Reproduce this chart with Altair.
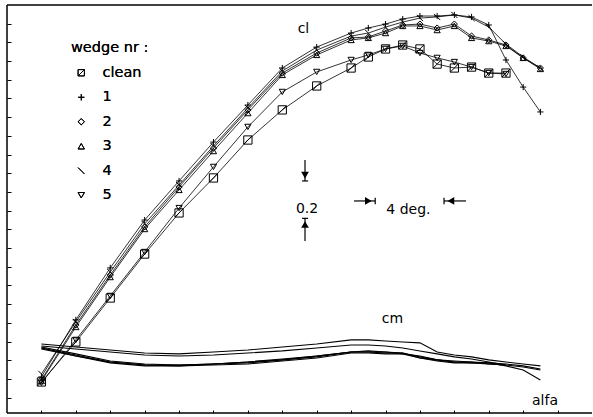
import altair as alt
import pandas as pd

# ---------------- data ----------------
alfa = [-4, -2, 0, 2, 4, 6, 8, 10, 12, 14, 15, 16, 17, 18, 19, 20, 21, 22, 23, 24, 25]
series_names = ["clean", "1", "2", "3", "4", "5"]

cl_clean = [-0.016, 0.198, 0.433, 0.668, 0.888, 1.075, 1.278, 1.439, 1.567, 1.663,
            1.722, 1.765, 1.786, 1.765, 1.684, 1.663, 1.668, 1.636, 1.636]
cl_1 = [0.011, 0.316, 0.594, 0.850, 1.059, 1.267, 1.465, 1.663, 1.775, 1.850, 1.877,
        1.898, 1.925, 1.941, 1.941, 1.947, 1.936, 1.893, 1.706, 1.561, 1.428]
cl_2 = [-0.005, 0.289, 0.556, 0.813, 1.027, 1.235, 1.439, 1.636, 1.743, 1.824, 1.829,
        1.861, 1.893, 1.898, 1.877, 1.898, 1.834, 1.813, 1.786, 1.717, 1.663]
cl_3 = [-0.011, 0.278, 0.545, 0.802, 1.011, 1.219, 1.422, 1.626, 1.733, 1.813, 1.824,
        1.850, 1.888, 1.888, 1.866, 1.888, 1.824, 1.807, 1.781, 1.717, 1.658]
cl_4 = [0.027, 0.305, 0.572, 0.829, 1.037, 1.246, 1.449, 1.647, 1.759, 1.834, 1.850,
        1.882, 1.909, 1.930, 1.936, 1.947, 1.930, 1.882, 1.791, 1.722, 1.663]
cl_5 = [-0.021, 0.209, 0.444, 0.679, 0.914, 1.134, 1.348, 1.535, 1.642, 1.706, 1.733,
        1.765, 1.781, 1.743, 1.717, 1.695, 1.668, 1.636, 1.631]

cm_clean = [0.166, 0.123, 0.091, 0.075, 0.070, 0.080, 0.091, 0.102, 0.123, 0.144, 0.150,
            0.144, 0.134, 0.123, 0.102, 0.096, 0.091, 0.080, 0.075]
cm_1 = [0.187, 0.171, 0.155, 0.139, 0.134, 0.144, 0.155, 0.171, 0.187, 0.209, 0.209,
        0.203, 0.198, 0.193, 0.144, 0.128, 0.118, 0.102, 0.091, 0.080, 0.070]
cm_2 = [0.166, 0.128, 0.091, 0.075, 0.075, 0.080, 0.086, 0.102, 0.118, 0.144, 0.144,
        0.139, 0.139, 0.118, 0.102, 0.091, 0.091, 0.086, 0.080, 0.070, 0.053]
cm_3 = [0.171, 0.134, 0.096, 0.080, 0.075, 0.080, 0.091, 0.107, 0.123, 0.144, 0.144,
        0.144, 0.139, 0.112, 0.102, 0.091, 0.086, 0.086, 0.070, 0.048, -0.005]
cm_4 = [0.176, 0.160, 0.144, 0.128, 0.123, 0.128, 0.139, 0.150, 0.166, 0.182, 0.182,
        0.176, 0.166, 0.150, 0.134, 0.118, 0.107, 0.091, 0.075, 0.064, 0.048]
cm_5 = [0.160, 0.123, 0.086, 0.070, 0.070, 0.075, 0.080, 0.096, 0.112, 0.139, 0.139,
        0.134, 0.134, 0.112, 0.096, 0.086, 0.086, 0.080, 0.075]

x_ticks = [-4, -2, 0, 2, 4, 6, 8, 10, 12, 14, 16, 18, 20, 22, 24, 26]
y_ticks = [-0.1, 0.0, 0.1, 0.2, 0.3, 0.4, 0.5, 0.6, 0.7, 0.8, 0.9, 1.0,
           1.1, 1.2, 1.3, 1.4, 1.5, 1.6, 1.7, 1.8, 1.9]

# annotation texts (data coordinates)
ann_text = ["cl", "cm", "alfa", "0.2", "4 deg."]
ann_x = [11.23, 16.40, 25.27, 11.44, 17.33]
ann_y = [1.850, 0.299, -0.139, 0.888, 0.882]

# annotation segments (scale bars)
seg_x = [11.32, 11.15, 11.32, 11.15, 14.17, 15.40, 19.40, 19.40]
seg_x2 = [11.32, 11.50, 11.32, 11.50, 15.40, 15.40, 20.68, 19.40]
seg_y = [1.171, 1.059, 0.859, 0.859, 0.952, 0.935, 0.952, 0.935]
seg_y2 = [1.059, 1.059, 0.738, 0.859, 0.952, 0.969, 0.952, 0.969]

head_x = [11.32, 11.32, 15.00, 19.80]
head_y = [1.090, 0.826, 0.952, 0.952]
head_shape = ["triangle-down", "triangle-up", "triangle-right", "triangle-left"]

X_MIN, X_MAX = -6, 28
Y_MIN, Y_MAX = -0.182, 2.0

# ---------------- tables ----------------
cls = {"clean": cl_clean, "1": cl_1, "2": cl_2, "3": cl_3, "4": cl_4, "5": cl_5}
cms = {"clean": cm_clean, "1": cm_1, "2": cm_2, "3": cm_3, "4": cm_4, "5": cm_5}
rows = []
for s in series_names:
    for a, c, m in zip(alfa, cls[s], cms[s]):
        rows.append({"series": s, "alfa": a, "cl": c, "cm": m})
df = pd.DataFrame(rows)

ann_df = pd.DataFrame({"a": ann_x, "v": ann_y, "t": ann_text})
seg_df = pd.DataFrame({"a": seg_x, "a2": seg_x2, "v": seg_y, "v2": seg_y2})
head_df = pd.DataFrame({"a": head_x, "v": head_y, "s": head_shape})
frame_df = pd.DataFrame({"a": [X_MIN, X_MIN, X_MIN], "a2": [X_MAX, X_MIN, X_MAX],
                         "v": [Y_MAX, Y_MIN, Y_MIN], "v2": [Y_MAX, Y_MAX, Y_MIN]})

xscale = alt.Scale(domain=[X_MIN, X_MAX], nice=False, zero=False)
yscale = alt.Scale(domain=[Y_MIN, Y_MAX], nice=False, zero=False)
x_axis = alt.Axis(title=None, labels=False, domain=False, grid=False, ticks=True,
                  tickSize=3, offset=-3, values=x_ticks, tickColor="black", tickWidth=1)
y_axis = alt.Axis(title=None, labels=False, domain=False, grid=False, ticks=True,
                  tickSize=4, offset=-4, values=y_ticks, tickColor="black", tickWidth=1)


def X(field):
    return alt.X(field, scale=xscale, axis=x_axis)


def Y(field):
    return alt.Y(field, scale=yscale, axis=y_axis)


FONT = "DejaVu Sans"

shape_paths = [
    "M-1,-1L1,-1L1,1L-1,1ZM-1,1L1,-1",   # clean: square with diagonal
    "M-1,0L1,0M0,-1L0,1",                 # 1: plus
    "diamond",                            # 2
    "triangle-up",                        # 3
    "M-1,-1L1,1",                         # 4: slash
    "triangle-down",                      # 5
]

legend = alt.Legend(title="wedge nr :", orient="none",
                    legendX=64, legendY=36, padding=0,
                    titleFont=FONT, titleFontSize=14.5,
                    titleFontWeight="normal", titleColor="black",
                    titlePadding=10,
                    labelFont=FONT, labelFontSize=14.5,
                    labelColor="black", labelOffset=14,
                    symbolSize=40, symbolStrokeWidth=1,
                    symbolStrokeColor="black", symbolFillColor="white",
                    symbolOffset=3, rowPadding=9.5)

shape_enc = alt.Shape("series:N",
                      scale=alt.Scale(domain=series_names, range=shape_paths),
                      legend=legend)

base = alt.Chart(df)

cl_lines = base.mark_line(color="black", strokeWidth=0.8).encode(
    x=X("alfa:Q"), y=Y("cl:Q"), detail="series:N")

cm_lines = base.mark_line(color="black", strokeWidth=1.1).encode(
    x=X("alfa:Q"), y=Y("cm:Q"), detail="series:N")

points = base.transform_filter(alt.datum.series != "clean").mark_point(
    color="black", filled=False, opacity=1, strokeWidth=1, size=38).encode(
    x=X("alfa:Q"), y=Y("cl:Q"), shape=shape_enc)

points_clean = base.transform_filter(alt.datum.series == "clean").mark_point(
    color="black", filled=False, opacity=1, strokeWidth=1, size=68).encode(
    x=X("alfa:Q"), y=Y("cl:Q"), shape=shape_enc)

frame = alt.Chart(frame_df).mark_rule(color="black", strokeWidth=1.5).encode(
    x=X("a:Q"), x2="a2:Q", y=Y("v:Q"), y2="v2:Q")

segs = alt.Chart(seg_df).mark_rule(color="black", strokeWidth=1.2).encode(
    x=X("a:Q"), x2="a2:Q", y=Y("v:Q"), y2="v2:Q")

heads = alt.Chart(head_df).mark_point(filled=True, color="black", opacity=1,
                                      size=60).encode(
    x=X("a:Q"), y=Y("v:Q"),
    shape=alt.Shape("s:N", scale=None))

texts = alt.Chart(ann_df).mark_text(font=FONT, fontSize=14, color="black",
                                    align="center", baseline="alphabetic").encode(
    x=X("a:Q"), y=Y("v:Q"), text="t:N")

chart = alt.layer(frame, cm_lines, cl_lines, points, points_clean, segs, heads,
                  texts).properties(
    width=585, height=408,
    autosize=alt.AutoSizeParams(type="none"),
    padding={"left": 7, "top": 5, "right": 1, "bottom": 4},
    background="white",
).resolve_scale(shape="independent").configure_view(stroke=None)

chart.save("out.html", embed_options={"renderer": "svg", "actions": False})
